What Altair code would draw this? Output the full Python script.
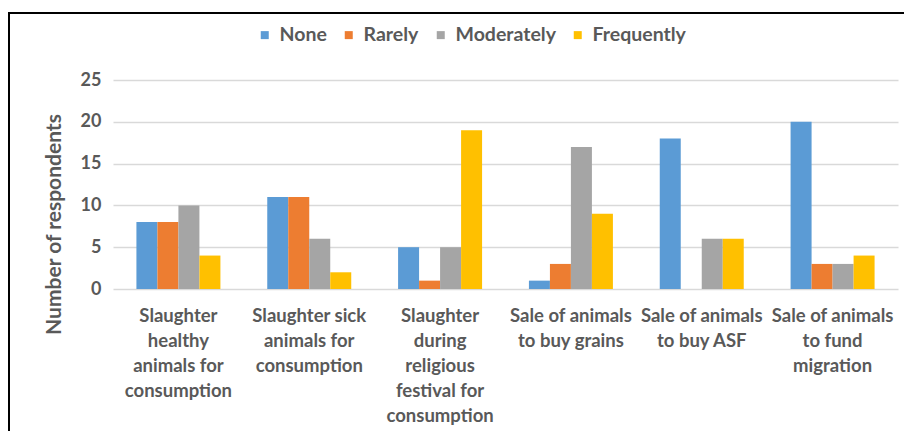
import altair as alt
import pandas as pd

categories = [
    "Slaughter healthy animals for consumption",
    "Slaughter sick animals for consumption",
    "Slaughter during religious festival for consumption",
    "Sale of animals to buy grains",
    "Sale of animals to buy ASF",
    "Sale of animals to fund migration",
]
label_lines = [
    ["Slaughter", "healthy", "animals for", "consumption"],
    ["Slaughter sick", "animals for", "consumption"],
    ["Slaughter", "during", "religious", "festival for", "consumption"],
    ["Sale of animals", "to buy grains"],
    ["Sale of animals", "to buy ASF"],
    ["Sale of animals", "to fund", "migration"],
]
series = ["None", "Rarely", "Moderately", "Frequently"]
colors = ["#5B9BD5", "#ED7D31", "#A5A5A5", "#FFC000"]
none_vals = [8, 11, 5, 1, 18, 20]
rarely_vals = [8, 11, 1, 3, 0, 3]
moderately_vals = [10, 6, 5, 17, 6, 3]
frequently_vals = [4, 2, 19, 9, 6, 4]

vals = [none_vals, rarely_vals, moderately_vals, frequently_vals]
rows = []
for s, v in zip(series, vals):
    for c, n in zip(categories, v):
        rows.append({"Activity": c, "Frequency": s, "Respondents": n})
df = pd.DataFrame(rows)

mapping = "{" + ",".join(
    "'" + c + "':[" + ",".join("'" + l + "'" for l in lines) + "]"
    for c, lines in zip(categories, label_lines)
) + "}"
label_expr = mapping + "[datum.label]"

FONT = "Lato"
GREY = "#595959"

bars = alt.Chart(df).mark_bar().encode(
    x=alt.X(
        "Activity:N",
        sort=categories,
        scale=alt.Scale(paddingInner=0.358, paddingOuter=0.179),
        axis=alt.Axis(
            title=None, labelAngle=0, labelExpr=label_expr, labelFont=FONT,
            labelFontSize=18.5, labelFontWeight="bold", labelColor=GREY,
            labelLineHeight=25, labelPadding=17, ticks=False, domain=False,
            labelLimit=200,
        ),
    ),
    xOffset=alt.XOffset("Frequency:N", sort=series, scale=alt.Scale(paddingInner=0, paddingOuter=0)),
    y=alt.Y(
        "Respondents:Q",
        scale=alt.Scale(domain=[0, 25]),
        axis=alt.Axis(
            title="Number of respondents", values=[0, 5, 10, 15, 20, 25],
            labelFont=FONT, labelFontSize=18, labelFontWeight="bold",
            labelColor=GREY, labelPadding=12, ticks=False, domain=False,
            gridColor="#D9D9D9", gridWidth=1.5,
            titleFont=FONT, titleFontSize=21, titleFontWeight="bold",
            titleColor=GREY, titleX=-59, titleY=144, titleAngle=270,
            titleAlign="center", titleBaseline="middle",
        ),
    ),
    color=alt.Color(
        "Frequency:N", sort=series,
        scale=alt.Scale(domain=series, range=colors),
        legend=alt.Legend(
            title=None, orient="none", direction="horizontal",
            legendX=142, legendY=-55, symbolType="square", symbolSize=64,
            symbolStrokeWidth=0, labelFont=FONT, labelFontSize=19.5,
            labelFontWeight="bold", labelColor=GREY, columnPadding=12,
            labelOffset=5,
        ),
    ),
)

frame_data = alt.Data(values=[{}])
top_line = alt.Chart(frame_data).mark_rule(color="black", strokeWidth=2).encode(
    x=alt.value(-105), x2=alt.value(800), y=alt.value(-67)
)
left_line = alt.Chart(frame_data).mark_rule(color="black", strokeWidth=2).encode(
    x=alt.value(-104), y=alt.value(-68), y2=alt.value(400)
)

chart = alt.layer(bars, top_line, left_line).properties(
    width=785, height=209,
    padding={"left": 105, "top": 72, "right": 6, "bottom": 142},
    autosize=alt.AutoSizeParams(type="none"),
    background="white",
).configure_view(stroke=None)

chart.save("out.html", embed_options={"renderer": "svg", "actions": False})
